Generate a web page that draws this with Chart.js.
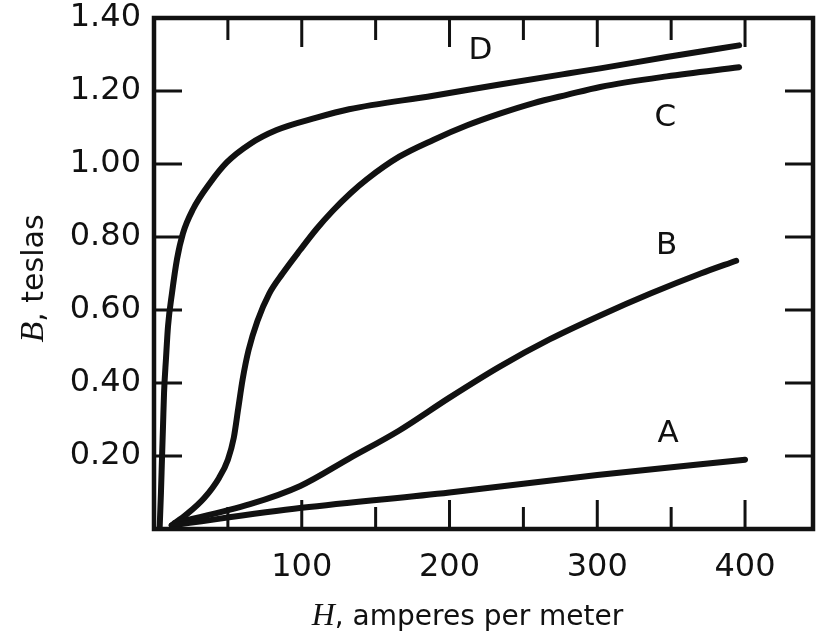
<!DOCTYPE html>
<html>
<head>
<meta charset="utf-8">
<script src="https://cdn.jsdelivr.net/npm/chart.js@4.4.1/dist/chart.umd.min.js"></script>
<style>
   html, body { margin: 0; padding: 0; background: #fff; }
   #bhChart { display: block; }
</style>
</head>
<body>
<canvas id="bhChart" width="825" height="635"></canvas>
<script>
/* -----------------------------------------------------------------------
   data (H in amperes per meter, B in teslas)
   ------------------------------------------------------------------------*/
const hA = [12, 100, 200, 300, 400];
const bA = [0.01, 0.058, 0.10, 0.148, 0.19];

const hB = [14, 65, 99, 132, 166, 200, 234, 268, 302, 336, 370, 394];
const bB = [0.016, 0.068, 0.118, 0.193, 0.27, 0.36, 0.445, 0.52, 0.585, 0.645, 0.70, 0.735];

const hC = [12, 22, 34, 44, 50, 54, 57, 60, 64, 70, 78, 87, 99, 110, 121, 133, 144, 166, 189, 212, 234, 257, 280, 302, 347, 396];
const bC = [0.01, 0.04, 0.085, 0.14, 0.19, 0.25, 0.33, 0.41, 0.49, 0.57, 0.645, 0.70, 0.765, 0.822, 0.872, 0.92, 0.958, 1.02, 1.066, 1.106, 1.138, 1.167, 1.19, 1.211, 1.24, 1.265];

const hD = [3.8, 4.7, 5.4, 6.1, 6.8, 8.1, 9.5, 12.2, 15.6, 19.6, 26.4, 37.9, 49.4, 65, 83, 110, 132, 189, 234, 280, 302, 347, 396];
const bD = [0, 0.099, 0.192, 0.282, 0.373, 0.466, 0.556, 0.647, 0.74, 0.81, 0.876, 0.948, 1.005, 1.055, 1.093, 1.127, 1.15, 1.187, 1.218, 1.248, 1.262, 1.293, 1.325];

// curve names and where they sit (data units)
const curveNames = ['A', 'B', 'C', 'D'];
const nameH = [348, 347, 346, 221];
const nameB = [0.26, 0.775, 1.125, 1.31];

// tick labels and tick marks
const xLabelValues = [100, 200, 300, 400];
const yLabelValues = [0.20, 0.40, 0.60, 0.80, 1.00, 1.20, 1.40];
const xMarkValues = [50, 100, 150, 200, 250, 300, 350, 400];
const yMarkValues = [0.2, 0.4, 0.6, 0.8, 1.0, 1.2];

const INK = '#111';

function toPoints(hs, bs) {
   return hs.map((h, i) => ({ x: h, y: bs[i] }));
}

function curve(label, hs, bs) {
   return {
      label: label,
      data: toPoints(hs, bs),
      borderColor: INK,
      borderWidth: 6,
      borderCapStyle: 'round',
      pointRadius: 0,
      cubicInterpolationMode: 'monotone',
      fill: false,
   };
}

/* -----------------------------------------------------------------------
   frame with inward ticks on every side
   ------------------------------------------------------------------------*/
const framePlugin = {
   id: 'frame',
   afterDraw: function(chart) {
      const ctx = chart.ctx;
      const a = chart.chartArea;
      const xs = chart.scales.x;
      const ys = chart.scales.y;
      ctx.save();
      ctx.strokeStyle = INK;
      ctx.lineWidth = 3;
      ctx.beginPath();
      xMarkValues.forEach(v => {
         const px = xs.getPixelForValue(v);
         const len = v % 100 === 0 ? 29 : 22;
         ctx.moveTo(px, a.bottom);
         ctx.lineTo(px, a.bottom - len);
         ctx.moveTo(px, a.top);
         ctx.lineTo(px, a.top + len);
      });
      yMarkValues.forEach(v => {
         const py = ys.getPixelForValue(v);
         ctx.moveTo(a.left, py);
         ctx.lineTo(a.left + 28, py);
         ctx.moveTo(a.right, py);
         ctx.lineTo(a.right - 28, py);
      });
      ctx.stroke();
      ctx.lineWidth = 4.5;
      ctx.strokeRect(a.left, a.top, a.right - a.left, a.bottom - a.top);
      ctx.restore();
   }
};

/* -----------------------------------------------------------------------
   curve letters + axis titles (italic symbol, plain words)
   ------------------------------------------------------------------------*/
function drawMixed(ctx, sym, rest, size, cx, y) {
   const symFont = 'italic ' + (size + 4) + 'px "Liberation Serif"';
   const restFont = size + 'px "DejaVu Sans"';
   ctx.font = symFont;
   const w1 = ctx.measureText(sym).width;
   ctx.font = restFont;
   const w2 = ctx.measureText(rest).width;
   const x = cx - (w1 + w2) / 2;
   ctx.font = symFont;
   ctx.fillText(sym, x, y);
   ctx.font = restFont;
   ctx.fillText(rest, x + w1, y);
}

const textPlugin = {
   id: 'texts',
   afterDraw: function(chart) {
      const ctx = chart.ctx;
      const a = chart.chartArea;
      const xs = chart.scales.x;
      const ys = chart.scales.y;
      ctx.save();
      ctx.fillStyle = INK;

      ctx.font = '31px "DejaVu Sans"';
      ctx.textAlign = 'center';
      ctx.textBaseline = 'middle';
      curveNames.forEach((n, i) => {
         ctx.fillText(n, xs.getPixelForValue(nameH[i]), ys.getPixelForValue(nameB[i]));
      });

      ctx.textAlign = 'left';
      ctx.textBaseline = 'alphabetic';
      drawMixed(ctx, 'H', ', amperes per meter', 28, (a.left + a.right) / 2 - 16, a.bottom + 96);

      ctx.translate(43, (a.top + a.bottom) / 2 + 5);
      ctx.rotate(-Math.PI / 2);
      drawMixed(ctx, 'B', ', teslas', 30, 0, 0);
      ctx.restore();
   }
};

/* -----------------------------------------------------------------------
   chart
   ------------------------------------------------------------------------*/
const config = {
   type: 'line',
   data: {
      datasets: [
         curve('A', hA, bA),
         curve('B', hB, bB),
         curve('C', hC, bC),
         curve('D', hD, bD),
      ]
   },
   options: {
      responsive: false,
      animation: false,
      devicePixelRatio: 1,
      layout: {
         padding: { top: 18, right: 12, left: 0, bottom: 0 }
      },
      scales: {
         x: {
            type: 'linear',
            min: 0,
            max: 446,
            grid: { display: false, drawTicks: false },
            border: { display: false },
            ticks: {
               stepSize: 50,
               includeBounds: false,
               autoSkip: false,
               maxRotation: 0,
               padding: 19,
               color: INK,
               font: { family: 'DejaVu Sans', size: 32 },
               callback: function(v) {
                  return xLabelValues.includes(v) ? String(v) : '';
               }
            },
            afterFit: function(scale) {
               scale.height = 106;
               scale.paddingLeft = 0;
               scale.paddingRight = 0;
            }
         },
         y: {
            min: 0,
            max: 1.4,
            grid: { display: false, drawTicks: false },
            border: { display: false },
            ticks: {
               stepSize: 0.2,
               padding: 13,
               color: INK,
               font: { family: 'DejaVu Sans', size: 32 },
               callback: function(v) {
                  const hit = yLabelValues.find(t => Math.abs(t - v) < 1e-6);
                  return hit === undefined ? '' : hit.toFixed(2);
               }
            },
            afterFit: function(scale) {
               scale.width = 154;
               scale.paddingTop = 0;
               scale.paddingBottom = 0;
            }
         }
      },
      plugins: {
         legend: { display: false },
         tooltip: { enabled: false },
      }
   },
   plugins: [framePlugin, textPlugin]
};

const bhChart = new Chart(document.getElementById('bhChart'), config);
</script>
</body>
</html>
